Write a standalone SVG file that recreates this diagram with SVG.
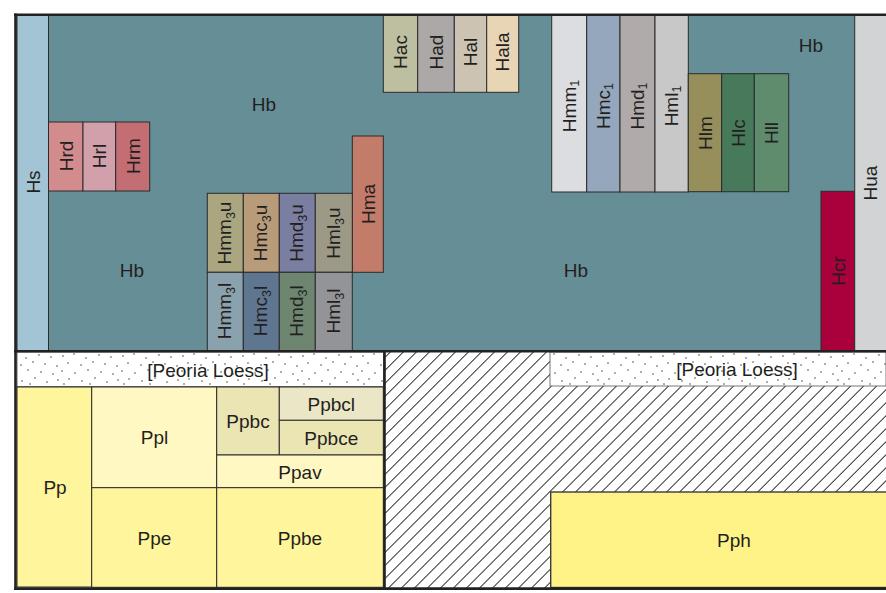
<svg xmlns="http://www.w3.org/2000/svg" width="886" height="593" viewBox="0 0 886 593">
<defs>
<style>
.b{stroke:#2b2b2b;stroke-width:1}
.t{font-family:"Liberation Sans",Arial,sans-serif;font-size:19px;fill:#231f20;text-anchor:middle}
.s{font-size:12.5px}
.frame{stroke:#222;stroke-width:2.6;fill:none}
</style>
<pattern id="hatch" patternUnits="userSpaceOnUse" width="9.2" height="10" patternTransform="rotate(45)">
<line x1="0.5" y1="0" x2="0.5" y2="10" stroke="#111" stroke-width="0.9"/>
</pattern>
<pattern id="dots" patternUnits="userSpaceOnUse" x="0" y="352" width="60" height="34">
<rect width="60" height="34" fill="#fff"/>
<g fill="#4a4a4a">
<circle cx="3" cy="4" r="0.8"/><circle cx="14" cy="2" r="0.8"/><circle cx="26" cy="6" r="0.8"/><circle cx="39" cy="3" r="0.8"/><circle cx="51" cy="5" r="0.8"/>
<circle cx="8" cy="11" r="0.8"/><circle cx="21" cy="13" r="0.8"/><circle cx="33" cy="10" r="0.8"/><circle cx="45" cy="12" r="0.8"/><circle cx="57" cy="14" r="0.8"/>
<circle cx="2" cy="19" r="0.8"/><circle cx="15" cy="21" r="0.8"/><circle cx="28" cy="18" r="0.8"/><circle cx="41" cy="20" r="0.8"/><circle cx="53" cy="22" r="0.8"/>
<circle cx="9" cy="27" r="0.8"/><circle cx="22" cy="29" r="0.8"/><circle cx="35" cy="26" r="0.8"/><circle cx="47" cy="30" r="0.8"/><circle cx="58" cy="28" r="0.8"/>
<circle cx="4" cy="32" r="0.8"/><circle cx="30" cy="32" r="0.8"/>
</g>
</pattern>
</defs>
<rect width="886" height="593" fill="#fff"/>
<g id="Hb">
<rect x="16" y="15" width="870" height="336" fill="#668e97"/>
<text class="t" x="264" y="110.5">Hb</text>
<text class="t" x="132" y="276.5">Hb</text>
<text class="t" x="576" y="276.5">Hb</text>
<text class="t" x="811" y="51.5">Hb</text>
</g>
<g id="Hs"><rect class="b" x="17" y="15" width="31.5" height="336" fill="#a3c4d4"/><text class="t" transform="translate(39.5,182) rotate(-90)">Hs</text></g>
<g id="Hrd"><rect class="b" x="48.5" y="122" width="34.5" height="69" fill="#d38c8e"/><text class="t" transform="translate(72.5,156) rotate(-90)">Hrd</text></g>
<g id="Hrl"><rect class="b" x="83" y="122" width="32.7" height="69" fill="#d1a0aa"/><text class="t" transform="translate(106.3,156) rotate(-90)">Hrl</text></g>
<g id="Hrm"><rect class="b" x="115.7" y="122" width="34" height="69" fill="#c36e73"/><text class="t" transform="translate(139.5,156) rotate(-90)">Hrm</text></g>
<g id="Hma"><rect class="b" x="352.3" y="136" width="31" height="136.3" fill="#c47c6a"/><text class="t" transform="translate(374.8,204) rotate(-90)">Hma</text></g>
<g id="Hmm3u"><rect class="b" x="207.3" y="193.3" width="36" height="79" fill="#aaa680"/><text class="t" transform="translate(231,233) rotate(-90)">Hmm<tspan class="s" dy="4">3</tspan><tspan dy="-4">u</tspan></text></g>
<g id="Hmc3u"><rect class="b" x="243.3" y="193.3" width="36" height="79" fill="#b89c7a"/><text class="t" transform="translate(267,233) rotate(-90)">Hmc<tspan class="s" dy="4">3</tspan><tspan dy="-4">u</tspan></text></g>
<g id="Hmd3u"><rect class="b" x="279.3" y="193.3" width="36" height="79" fill="#7a7ea0"/><text class="t" transform="translate(303,233) rotate(-90)">Hmd<tspan class="s" dy="4">3</tspan><tspan dy="-4">u</tspan></text></g>
<g id="Hml3u"><rect class="b" x="315.3" y="193.3" width="37" height="79" fill="#9c9986"/><text class="t" transform="translate(339.5,233) rotate(-90)">Hml<tspan class="s" dy="4">3</tspan><tspan dy="-4">u</tspan></text></g>
<g id="Hmm3l"><rect class="b" x="207.3" y="272.3" width="36" height="78.7" fill="#8aa2ae"/><text class="t" transform="translate(231,311) rotate(-90)">Hmm<tspan class="s" dy="4">3</tspan><tspan dy="-4">l</tspan></text></g>
<g id="Hmc3l"><rect class="b" x="243.3" y="272.3" width="36" height="78.7" fill="#5e7690"/><text class="t" transform="translate(267,311) rotate(-90)">Hmc<tspan class="s" dy="4">3</tspan><tspan dy="-4">l</tspan></text></g>
<g id="Hmd3l"><rect class="b" x="279.3" y="272.3" width="36" height="78.7" fill="#6e8670"/><text class="t" transform="translate(303,311) rotate(-90)">Hmd<tspan class="s" dy="4">3</tspan><tspan dy="-4">l</tspan></text></g>
<g id="Hml3l"><rect class="b" x="315.3" y="272.3" width="37" height="78.7" fill="#929497"/><text class="t" transform="translate(339.5,311) rotate(-90)">Hml<tspan class="s" dy="4">3</tspan><tspan dy="-4">l</tspan></text></g>
<g id="Hac"><rect class="b" x="383.3" y="15" width="34.4" height="77.3" fill="#bebea1"/><text class="t" transform="translate(407.3,52) rotate(-90)">Hac</text></g>
<g id="Had"><rect class="b" x="417.7" y="15" width="36.6" height="77.3" fill="#aca8a7"/><text class="t" transform="translate(442.8,52) rotate(-90)">Had</text></g>
<g id="Hal"><rect class="b" x="454.3" y="15" width="32.4" height="77.3" fill="#cdc3b3"/><text class="t" transform="translate(477.3,52) rotate(-90)">Hal</text></g>
<g id="Hala"><rect class="b" x="486.7" y="15" width="32" height="77.3" fill="#e8d5b5"/><text class="t" transform="translate(509.3,52) rotate(-90)">Hala</text></g>
<g id="Hmm1"><rect class="b" x="551.7" y="15" width="35" height="177" fill="#dcdde0"/><text class="t" transform="translate(575.8,106) rotate(-90)">Hmm<tspan class="s" dy="3">1</tspan></text></g>
<g id="Hmc1"><rect class="b" x="586.7" y="15" width="33.3" height="177" fill="#94a7bd"/><text class="t" transform="translate(610,106) rotate(-90)">Hmc<tspan class="s" dy="3">1</tspan></text></g>
<g id="Hmd1"><rect class="b" x="620" y="15" width="35" height="177" fill="#b0abaa"/><text class="t" transform="translate(644,106) rotate(-90)">Hmd<tspan class="s" dy="3">1</tspan></text></g>
<g id="Hml1"><rect class="b" x="655" y="15" width="33.3" height="177" fill="#c8c8c9"/><text class="t" transform="translate(678.3,106) rotate(-90)">Hml<tspan class="s" dy="3">1</tspan></text></g>
<g id="Hlm"><rect class="b" x="688.3" y="73.7" width="33.4" height="118" fill="#978f5b"/><text class="t" transform="translate(711.8,133) rotate(-90)">Hlm</text></g>
<g id="Hlc"><rect class="b" x="721.7" y="73.7" width="32.6" height="118" fill="#477a5a"/><text class="t" transform="translate(744.8,133) rotate(-90)">Hlc</text></g>
<g id="Hll"><rect class="b" x="754.3" y="73.7" width="34.4" height="118" fill="#5e8c6c"/><text class="t" transform="translate(778.3,133) rotate(-90)">Hll</text></g>
<g id="Hcr"><rect class="b" x="821" y="191.3" width="33.5" height="159.7" fill="#aa003b"/><text class="t" transform="translate(844.6,271) rotate(-90)">Hcr</text></g>
<g id="Hua"><rect class="b" x="854.7" y="15" width="32" height="336" fill="#d2d3d5"/><text class="t" transform="translate(877.3,183) rotate(-90)">Hua</text></g>
<g id="hatch-area"><rect x="385" y="351" width="501" height="237" fill="url(#hatch)"/></g>
<g id="PeoriaLoess1"><rect x="17" y="352" width="366.5" height="34.7" fill="url(#dots)" stroke="#444" stroke-width="0.8"/><text class="t" x="208" y="376.5">[Peoria Loess]</text></g>
<g id="PeoriaLoess2"><rect x="550" y="352" width="336" height="34" fill="url(#dots)" stroke="#555" stroke-width="0.8"/><text class="t" x="737" y="375.5">[Peoria Loess]</text></g>
<g id="Pp"><rect class="b" x="17" y="387" width="74.7" height="200" fill="#fff59c"/><text class="t" x="55" y="493.5">Pp</text></g>
<g id="Ppl"><rect class="b" x="91.7" y="387" width="125" height="100.7" fill="#fff8c2"/><text class="t" x="154.5" y="444">Ppl</text></g>
<g id="Ppbc"><rect class="b" x="216.7" y="387" width="62.6" height="68" fill="#ebe4b3"/><text class="t" x="248" y="427.5">Ppbc</text></g>
<g id="Ppbcl"><rect class="b" x="279.3" y="387" width="104" height="33.3" fill="#ebe6c6"/><text class="t" x="331.3" y="410.5">Ppbcl</text></g>
<g id="Ppbce"><rect class="b" x="279.3" y="420.3" width="104" height="34.7" fill="#ebe4b3"/><text class="t" x="331.3" y="444.5">Ppbce</text></g>
<g id="Ppav"><rect class="b" x="216.7" y="455" width="166.6" height="32.7" fill="#fff8c2"/><text class="t" x="300" y="478.5">Ppav</text></g>
<g id="Ppe"><rect class="b" x="91.7" y="487.7" width="125" height="99.6" fill="#fff59c"/><text class="t" x="154.5" y="544.5">Ppe</text></g>
<g id="Ppbe"><rect class="b" x="216.7" y="487.7" width="166.6" height="99.6" fill="#fff59c"/><text class="t" x="300" y="544.5">Ppbe</text></g>
<g id="Pph"><rect x="550.7" y="492" width="336" height="95.5" fill="#fff387" stroke="#3a3a3a" stroke-width="1.4"/><text class="t" x="734" y="546.5">Pph</text></g>
<g id="frame">
<line class="frame" x1="14" y1="14.8" x2="886" y2="14.8"/>
<line class="frame" x1="15.5" y1="13.5" x2="15.5" y2="590"/>
<line class="frame" x1="14" y1="588.6" x2="886" y2="588.6"/>
<line class="frame" x1="14" y1="351.2" x2="886" y2="351.2"/>
<line class="frame" x1="384.5" y1="351" x2="384.5" y2="589"/>
</g>
</svg>
